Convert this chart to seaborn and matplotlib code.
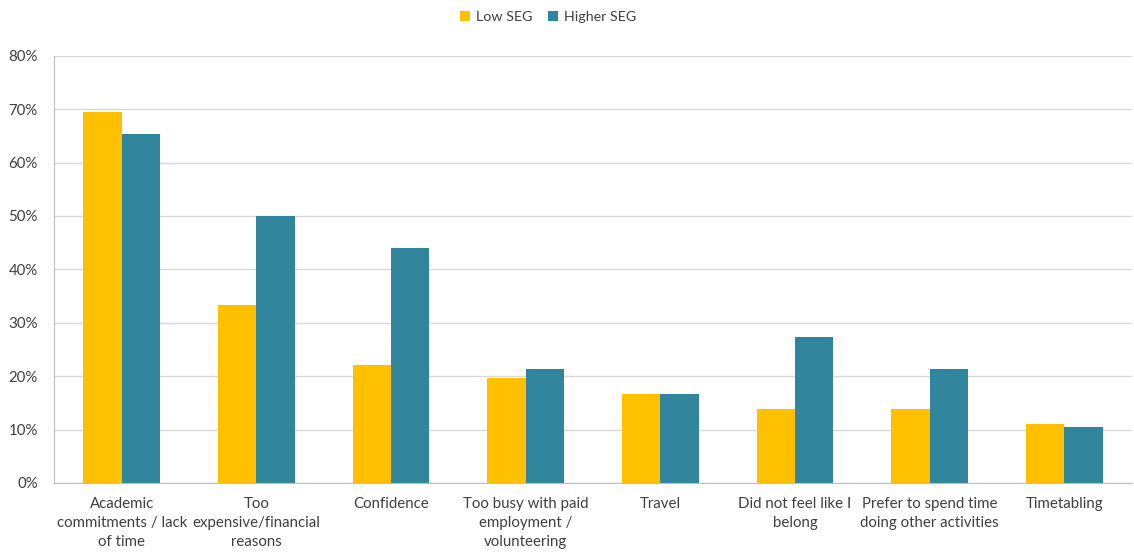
import pandas as pd
import matplotlib.pyplot as plt
import seaborn as sns
from matplotlib.ticker import PercentFormatter

categories = [
    "Academic\ncommitments / lack\nof time",
    "Too\nexpensive/financial\nreasons",
    "Confidence",
    "Too busy with paid\nemployment /\nvolunteering",
    "Travel",
    "Did not feel like I\nbelong",
    "Prefer to spend time\ndoing other activities",
    "Timetabling",
]
low_seg = [69.4, 33.4, 22.1, 19.6, 16.7, 13.9, 13.9, 11.1]
higher_seg = [65.3, 50.0, 44.0, 21.3, 16.7, 27.3, 21.3, 10.5]
series = ["Low SEG", "Higher SEG"]
colors = ["#FFC000", "#31859C"]

df = pd.DataFrame({
    "Reason": categories * 2,
    "Group": [series[0]] * len(categories) + [series[1]] * len(categories),
    "Value": low_seg + higher_seg,
})

sns.set_style("white")
plt.rcParams["font.family"] = ["Lato", "DejaVu Sans"]

fig = plt.figure(figsize=(11.34, 5.52), dpi=100)
ax = fig.add_axes([0.048, 0.125, 0.950, 0.774])

sns.barplot(data=df, x="Reason", y="Value", hue="Group", palette=colors,
            width=0.57, saturation=1, linewidth=0, ax=ax, legend=True)

ax.set_ylim(0, 80)
ax.set_yticks(range(0, 81, 10))
ax.yaxis.set_major_formatter(PercentFormatter(decimals=0))
ax.yaxis.grid(True, color="#D9D9D9", linewidth=1)
ax.set_axisbelow(True)
ax.set_xlabel("")
ax.set_ylabel("")
ax.tick_params(axis="both", length=0, labelsize=10.8, colors="#404040")
ax.tick_params(axis="y", pad=12)
ax.tick_params(axis="x", pad=10)
for lbl in ax.get_xticklabels():
    lbl.set_linespacing(1.45)
for s in ["top", "right"]:
    ax.spines[s].set_visible(False)
for s in ["left", "bottom"]:
    ax.spines[s].set_color("#BFBFBF")

ax.legend(loc="upper center", bbox_to_anchor=(0.458, 1.135), ncol=2, frameon=False,
          fontsize=10.3, handlelength=0.7, handleheight=0.7, columnspacing=1.1,
          handletextpad=0.4, labelcolor="#404040")

fig.savefig("out.png", dpi=100)
